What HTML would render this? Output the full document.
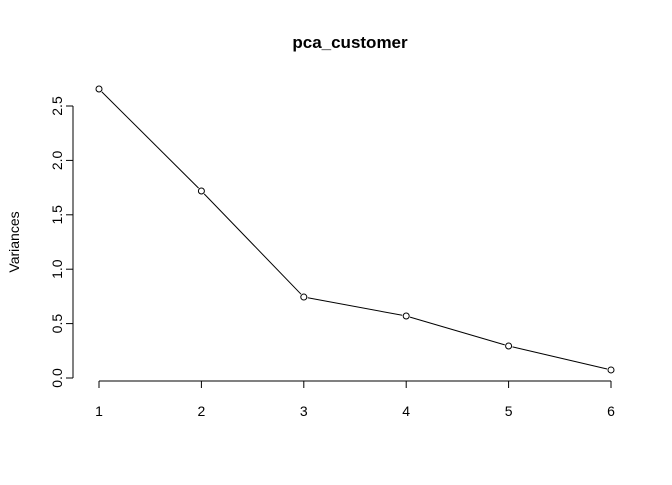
<!DOCTYPE html>
<html><head><meta charset="utf-8"><style>
body{margin:0;background:#fff}
svg text{font-family:"Liberation Sans",Arial,sans-serif;fill:#000}
</style></head><body>
<svg width="672" height="480" viewBox="0 0 672 480">
<g id="plot"></g>
</svg>
<script>
const components = [1,2,3,4,5,6];
const variances = [2.656,1.719,0.744,0.570,0.294,0.074];
const yTicks = [0,0.5,1,1.5,2,2.5];
const yTickLabels = ["0.0","0.5","1.0","1.5","2.0","2.5"];
const xTicks = [1,2,3,4,5,6];

const NS="http://www.w3.org/2000/svg";
const g=document.getElementById('plot');
const sx=v=>99+(v-1)*102.4;
const sy=v=>378-v*108.8;
function mk(t,a){const e=document.createElementNS(NS,t);for(const k in a)e.setAttribute(k,a[k]);g.appendChild(e);return e;}

let t=mk('text',{x:350,y:48,'text-anchor':'middle','font-size':'17','font-weight':'bold'});t.textContent='pca_customer';


t=mk('text',{x:0,y:0,'text-anchor':'middle','font-size':'14',transform:'translate(19,242) rotate(-90)'});t.textContent='Variances';



let ax=mk('line',{x1:73,x2:73,y1:sy(2.5),y2:sy(0),stroke:'#000'});


yTicks.forEach((v,i)=>{
  mk('line',{x1:66,x2:73,y1:sy(v),y2:sy(v),stroke:'#000'});
  const l=mk('text',{x:0,y:0,'text-anchor':'middle','font-size':'14',transform:`translate(62,${sy(v)}) rotate(-90)`});
  l.textContent=yTickLabels[i];
  
  
});
ax=mk('line',{x1:sx(1),x2:sx(6),y1:381,y2:381,stroke:'#000'});


xTicks.forEach(v=>{
  mk('line',{x1:sx(v),x2:sx(v),y1:381,y2:388,stroke:'#000'});
  const l=mk('text',{x:sx(v),y:416,'text-anchor':'middle','font-size':'14'});
  l.textContent=v;
  
  
});
for(let i=0;i<components.length-1;i++){
  const x1=sx(components[i]),y1=sy(variances[i]),x2=sx(components[i+1]),y2=sy(variances[i+1]);
  const d=Math.hypot(x2-x1,y2-y1),r=4/d;
  const s=mk('line',{x1:x1+(x2-x1)*r,y1:y1+(y2-y1)*r,x2:x2-(x2-x1)*r,y2:y2-(y2-y1)*r,stroke:'#000'});
  
  
}
components.forEach((c,i)=>{
  const p=mk('circle',{cx:sx(c),cy:sy(variances[i]),r:3,fill:'none',stroke:'#000'});
  
  
});
</script>
</body></html>
